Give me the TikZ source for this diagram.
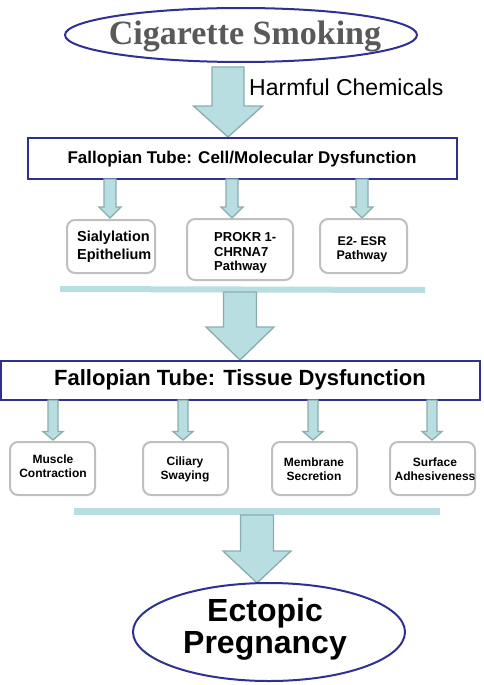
\documentclass[tikz,border=0pt]{standalone}
\usepackage{fontspec}
\setmainfont{Liberation Sans}
\newfontfamily\serifbf{Liberation Serif}
\usetikzlibrary{calc}
\definecolor{navy}{RGB}{46,49,146}
\definecolor{arrfill}{RGB}{184,222,225}
\definecolor{arrdraw}{RGB}{138,172,174}
\definecolor{boxgray}{RGB}{191,191,191}
\definecolor{titlegray}{RGB}{89,89,89}
\tikzset{
  arrowstyle/.style={fill=arrfill, draw=arrdraw, line width=1.3pt, line join=miter},
  bandstyle/.style={fill=arrfill, draw=none},
  mainbox/.style={draw=navy, line width=2pt},
  subbox/.style={draw=boxgray, line width=2pt, rounded corners=8pt},
  oval/.style={draw=navy, line width=2pt},
  lbl/.style={inner sep=0pt, font=\bfseries, text=black},
}
\newcommand{\blkarrow}[5]{%
  \draw[arrowstyle] let \p1=(#1), \p2=(#2) in
    (\x2-#4pt,\y1) -- (\x2+#4pt,\y1) -- (\x2+#4pt,\y2+#3pt) -- (\x2+#5pt,\y2+#3pt)
    -- (\x2,\y2) -- (\x2-#5pt,\y2+#3pt) -- (\x2-#4pt,\y2+#3pt) -- cycle;}
\begin{document}
\begin{tikzpicture}[x=1pt,y=-1pt]
\useasboundingbox (0,0) rectangle (484,685);
% top ellipse
\draw[oval] (241,35) ellipse [x radius=176, y radius=27];
\node[inner sep=0pt, text=titlegray, font={\serifbf\bfseries\fontsize{34}{36}\selectfont}] (smoke) at (245,36) {Cigarette Smoking};
\node[inner sep=0pt, anchor=west, font={\fontsize{23}{26}\selectfont}] (harm) at (249,87) {Harmful Chemicals};
% big arrow 1
\coordinate (a1s) at (228,67);
\coordinate (a1t) at (228,137);
\blkarrow{a1s}{a1t}{31}{16}{34.5}
% box 1
\draw[mainbox] (28,138) rectangle (457,179);
\node[lbl, font={\bfseries\fontsize{17}{20}\selectfont}] (box1) at (242,159) {Fallopian Tube: Cell/Molecular Dysfunction};
% small arrows row 1
\foreach \cx/\nm in {110/s1, 232/s2, 362/s3}{
  \coordinate (\nm s) at (\cx,179);
  \coordinate (\nm t) at (\cx,218);
  \blkarrow{\nm s}{\nm t}{11}{6}{11}
}
% sub boxes row 1
\draw[subbox] (67,220) rectangle (155,273);
\node[lbl, align=left, anchor=west, font={\bfseries\fontsize{14.5}{18}\selectfont}] (sia) at (77,247) {Sialylation\\Epithelium};
\draw[subbox] (187,219) rectangle (293,280);
\node[lbl, align=left, anchor=west, font={\bfseries\fontsize{13}{14.5}\selectfont}] (prok) at (214,253) {PROKR 1-\\CHRNA7\\Pathway};
\draw[subbox] (320,219) rectangle (407,273);
\node[lbl, align=center, font={\bfseries\fontsize{12.5}{14}\selectfont}] (esr) at (362,249) {E2- ESR\\Pathway};
% band 1
\fill[bandstyle] (60,286) -- (425,287) -- (425,293) -- (60,292) -- cycle;
% big arrow 2
\coordinate (a2s) at (240,292);
\coordinate (a2t) at (240,360);
\blkarrow{a2s}{a2t}{33}{16.5}{34}
% box 2
\draw[mainbox] (1,361) rectangle (480,400);
\node[lbl, font={\bfseries\fontsize{22}{24}\selectfont}] (box2) at (240,380) {Fallopian Tube: Tissue Dysfunction};
% small arrows row 2
\foreach \cx/\nm in {53/t1, 183/t2, 313/t3, 432/t4}{
  \coordinate (\nm s) at (\cx,400);
  \coordinate (\nm t) at (\cx,440);
  \blkarrow{\nm s}{\nm t}{8.5}{5}{10}
}
% sub boxes row 2
\draw[subbox] (10,442) rectangle (95,495);
\draw[subbox] (143,442) rectangle (228,495);
\draw[subbox] (272,442) rectangle (357,495);
\draw[subbox] (390,442) rectangle (475,495);
\tikzset{small/.style={lbl, align=center, font={\bfseries\fontsize{12}{14}\selectfont}}}
\node[small] (mus) at (53,466) {Muscle\\Contraction};
\node[small] (cil) at (185,469) {Ciliary\\Swaying};
\node[small] (mem) at (314,469) {Membrane\\Secretion};
\node[small] (sur) at (435,469) {Surface\\Adhesiveness};
% band 2
\fill[bandstyle] (74,508) rectangle (440,515);
% big arrow 3
\coordinate (a3s) at (257,515);
\coordinate (a3t) at (257,583);
\blkarrow{a3s}{a3t}{32}{16.5}{34}
% bottom ellipse
\draw[oval] (269,632) ellipse [x radius=136, y radius=49];
\node[lbl, align=center, font={\bfseries\fontsize{32}{32}\selectfont}] (ect) at (265,629) {Ectopic\\Pregnancy};
\end{tikzpicture}
\end{document}
